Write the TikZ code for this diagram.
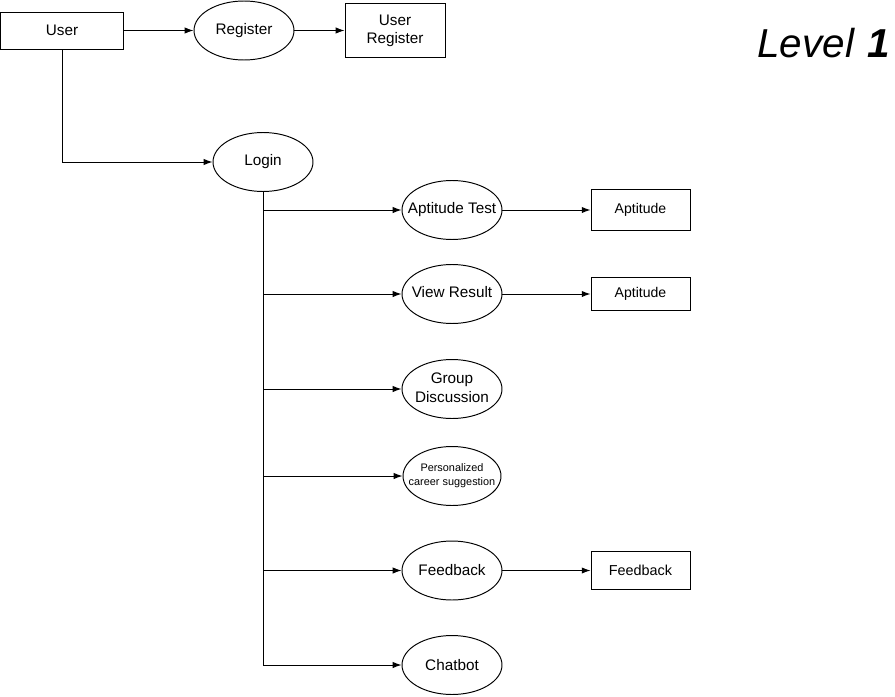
\documentclass[tikz,border=0pt]{standalone}
\usepackage{fontspec}
\setmainfont{Liberation Sans}
\usetikzlibrary{shapes.geometric,arrows.meta,positioning}
\newcommand{\nowide}[1]{\makebox[0pt]{\begin{tabular}{@{}c@{}}#1\end{tabular}}}
\tikzset{
  proc/.style={
    shape = ellipse,
    draw,
    minimum width = 2cm,
    minimum height = 1.18cm,
    inner sep = 0pt,
    align = center,
    font = \fontsize{8.7}{10.6}\selectfont
  },
  ent/.style={
    shape = rectangle,
    draw,
    minimum width = 1.98cm,
    inner sep = 0pt,
    align = center,
    font = \fontsize{8.7}{10.2}\selectfont
  },
  flow/.style={
    -{Latex[length=5pt,width=3.6pt]}
  },
  small/.style={
    font = \fontsize{6.2}{8}\selectfont
  }
}
\begin{document}
\begin{tikzpicture}[x=0.02cm,y=-0.02cm,line width=0.55pt]
    \useasboundingbox (0,0) rectangle (895,696);
    % top row
    \node[ent, minimum width=2.46cm, minimum height=0.74cm] (user) at (62,30.5) {User};
    \node[proc] (reg) at (244,30.5) {Register};
    \node[ent, minimum width=2cm, minimum height=1.08cm] (ureg) at (395,30.5) {User\\Register};
    \node[proc] (login) at (263,162) {Login};
    \draw[flow] (user) -- (reg);
    \draw[flow] (reg) -- (ureg);
    \draw[flow] (user.south) |- (login.west);
    % processes after login
    \node[proc] (apt) at (452,210) {\nowide{Aptitude Test}};
    \node[proc] (view) at (452,294) {\nowide{View Result}};
    \node[proc] (gd) at (452,389) {\nowide{Group\\Discussion}};
    \node[proc, small, minimum width=1.96cm] (pcs) at (452,476) {\nowide{Personalized\\career suggestion}};
    \node[proc] (fb) at (452,570.5) {Feedback};
    \node[proc] (chat) at (452,665) {Chatbot};
    \node[ent, minimum height=0.82cm, font=\fontsize{8}{9}\selectfont] (aptst) at (640.5,210) {Aptitude};
    \node[ent, minimum height=0.66cm, font=\fontsize{8}{9}\selectfont] (viewst) at (640.5,294) {Aptitude};
    \node[ent, minimum height=0.76cm, font=\fontsize{8.2}{9}\selectfont] (fbst) at (640.5,570.5) {Feedback};
    \draw (login.south) -- (login.south |- chat.west);
    \foreach \n in {apt,view,gd,pcs,fb,chat}{
    \draw[flow] (login.south |- \n.west) -- (\n.west);}
    \draw[flow] (apt) -- (aptst);
    \draw[flow] (view) -- (viewst);
    \draw[flow] (fb) -- (fbst);
    \node[anchor=base east, inner sep=0pt, font=\fontsize{23}{26}\selectfont] (lvl) at (890,58) {\textit{Level}\hspace{0.3em}\textbf{\textit{1}}};
\end{tikzpicture}
\end{document}
